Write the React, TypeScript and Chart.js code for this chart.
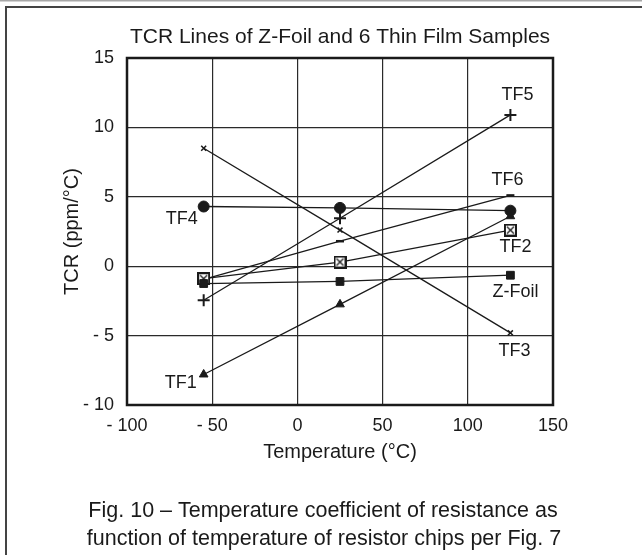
import React, { useEffect, useRef } from "react";
import { Chart, registerables } from "chart.js";

Chart.register(...registerables);

const temps = [-55, 25, 125];
const seriesNames = ["Z-Foil", "TF1", "TF2", "TF3", "TF4", "TF5", "TF6"];
const zFoil = [-1.25, -1.1, -0.65];
const tf1 = [-7.8, -2.75, 3.6];
const tf2 = [-0.9, 0.3, 2.6];
const tf3 = [8.5, 2.6, -4.8];
const tf4 = [4.3, 4.2, 4.0];
const tf5 = [-2.45, 3.45, 10.9];
const tf6 = [-0.95, 1.8, 5.1];
const xTicks = [-100, -50, 0, 50, 100, 150];
const yTicks = [-10, -5, 0, 5, 10, 15];

const titleText = "TCR Lines of Z-Foil and 6 Thin Film Samples";
const xTitle = "Temperature (°C)";
const yTitle = "TCR (ppm/°C)";
const captionLines = [
  "Fig. 10 – Temperature coefficient of resistance as",
  "function of temperature of resistor chips per Fig. 7",
];

// label anchor: which point index of the series, and pixel offset (style)
const labelAnchors: Record<string, { idx: number; dx: number; dy: number }> = {
  "Z-Foil": { idx: 2, dx: 5, dy: 17 },
  TF1: { idx: 0, dx: -23, dy: 9 },
  TF2: { idx: 2, dx: 5, dy: 17 },
  TF3: { idx: 2, dx: 4, dy: 18 },
  TF4: { idx: 0, dx: -22, dy: 13 },
  TF5: { idx: 2, dx: 7, dy: -20 },
  TF6: { idx: 2, dx: -3, dy: -15 },
};

const FONT = '"Liberation Sans", Arial, Helvetica, sans-serif';
const INK = "#1a1a1a";

function makeBoxX(): HTMLCanvasElement {
  const c = document.createElement("canvas");
  c.width = 13;
  c.height = 13;
  const g = c.getContext("2d")!;
  g.fillStyle = "#fff";
  g.fillRect(1, 1, 11, 11);
  g.strokeStyle = INK;
  g.lineWidth = 2;
  g.strokeRect(1, 1, 11, 11);
  g.lineWidth = 1.3;
  g.beginPath();
  g.moveTo(3, 3);
  g.lineTo(10, 10);
  g.moveTo(10, 3);
  g.lineTo(3, 10);
  g.stroke();
  return c;
}

function fmt(v: number): string {
  return v < 0 ? "- " + Math.abs(v) : String(v);
}

export default function App() {
  const ref = useRef<HTMLCanvasElement | null>(null);

  useEffect(() => {
    if (!ref.current) return;
    const values = [zFoil, tf1, tf2, tf3, tf4, tf5, tf6];
    const styles: any[] = [
      { pointStyle: "rect", pointRadius: 5.5, pointBorderWidth: 1 },
      { pointStyle: "triangle", pointRadius: 5, pointBorderWidth: 1 },
      { pointStyle: makeBoxX(), pointRadius: 6, pointBorderWidth: 1 },
      { pointStyle: "crossRot", pointRadius: 3.5, pointBorderWidth: 1.5 },
      { pointStyle: "circle", pointRadius: 5.5, pointBorderWidth: 1 },
      { pointStyle: "cross", pointRadius: 6, pointBorderWidth: 2 },
      { pointStyle: "line", pointRadius: 4, pointBorderWidth: 2.5 },
    ];
    const datasets = seriesNames.map((name, i) => ({
      label: name,
      data: temps.map((t, j) => ({ x: t, y: values[i][j] })),
      showLine: true,
      borderColor: INK,
      backgroundColor: INK,
      pointBackgroundColor: INK,
      pointBorderColor: INK,
      borderWidth: 1.3,
      ...styles[i],
    }));

    const decor = {
      id: "decor",
      afterDraw(chart: any) {
        const ctx = chart.ctx as CanvasRenderingContext2D;
        const a = chart.chartArea;
        ctx.save();
        // figure frame
        ctx.fillStyle = "#a8a8a8";
        ctx.fillRect(0, 0, 642, 1.5);
        ctx.fillStyle = "#444";
        ctx.fillRect(5, 6, 637, 2);
        ctx.fillRect(5, 6, 2, 549);
        // plot border
        ctx.strokeStyle = INK;
        ctx.lineWidth = 2.5;
        ctx.strokeRect(a.left, a.top, a.right - a.left, a.bottom - a.top);
        // texts
        ctx.fillStyle = INK;
        ctx.textAlign = "center";
        ctx.textBaseline = "middle";
        ctx.font = "21px " + FONT;
        ctx.fillText(titleText, (a.left + a.right) / 2, 37);
        ctx.font = "20px " + FONT;
        ctx.fillText(xTitle, (a.left + a.right) / 2, 452);
        ctx.save();
        ctx.translate(72, (a.top + a.bottom) / 2);
        ctx.rotate(-Math.PI / 2);
        ctx.fillText(yTitle, 0, 0);
        ctx.restore();
        ctx.font = "21.5px " + FONT;
        ctx.fillText(captionLines[0], 323, 511);
        ctx.fillText(captionLines[1], 324, 539);
        // series labels
        ctx.font = "18px " + FONT;
        chart.data.datasets.forEach((ds: any, i: number) => {
          const an = labelAnchors[ds.label];
          if (!an) return;
          const el = chart.getDatasetMeta(i).data[an.idx];
          ctx.fillText(ds.label, el.x + an.dx, el.y + an.dy);
        });
        ctx.restore();
      },
    };

    const chart = new Chart(ref.current, {
      type: "scatter",
      data: { datasets },
      options: {
        animation: false,
        responsive: false,
        events: [],
        layout: { padding: { left: 0, right: 89, top: 58, bottom: 0 } },
        plugins: {
          legend: { display: false },
          tooltip: { enabled: false },
          title: { display: false },
        },
        scales: {
          x: {
            type: "linear",
            min: -100,
            max: 150,
            afterBuildTicks: (s: any) => {
              s.ticks = xTicks.map((v) => ({ value: v }));
            },
            afterFit: (s: any) => {
              s.height = 150;
            },
            grid: { color: "#2a2a2a", lineWidth: 1.2, drawTicks: false },
            border: { display: false },
            ticks: {
              color: INK,
              font: { family: FONT, size: 18 },
              padding: 10,
              maxRotation: 0,
              callback: (v: any) => fmt(Number(v)),
            },
          },
          y: {
            type: "linear",
            min: -10,
            max: 15,
            afterBuildTicks: (s: any) => {
              s.ticks = yTicks.map((v) => ({ value: v }));
            },
            afterFit: (s: any) => {
              s.width = 127;
            },
            grid: { color: "#2a2a2a", lineWidth: 1.2, drawTicks: false },
            border: { display: false },
            ticks: {
              color: INK,
              font: { family: FONT, size: 18 },
              padding: 13,
              callback: (v: any) => fmt(Number(v)),
            },
          },
        },
      },
      plugins: [decor],
    });
    return () => chart.destroy();
  }, []);

  return (
    <div style={{ position: "fixed", left: 0, top: 0, width: 642, height: 555, background: "#fff" }}>
      <canvas ref={ref} width={642} height={555} style={{ display: "block" }} />
    </div>
  );
}
